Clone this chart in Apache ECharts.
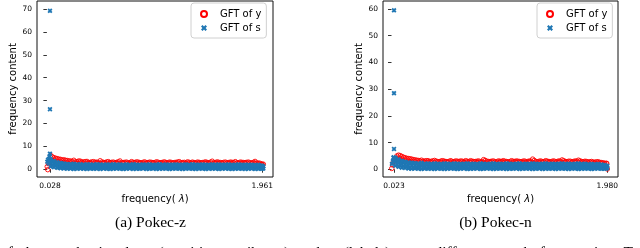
<!DOCTYPE html>
<html><head><meta charset="utf-8">
<script src="https://cdn.jsdelivr.net/npm/echarts@6/dist/echarts.min.js"></script>
<style>html,body{margin:0;padding:0;background:#fff}#c{width:640px;height:248px}</style>
</head><body><div id="c"></div>
<script>
// ---------- data ----------
const seriesNames = ['GFT of y', 'GFT of s'];
const captions = ['(a) Pokec-z', '(b) Pokec-n'];
const xTickValuesZ = [0.028, 1.961];
const xTickLabelsZ = ['0.028', '1.961'];
const xTickValuesN = [0.023, 1.980];
const xTickLabelsN = ['0.023', '1.980'];
const yTicksZ = [0, 10, 20, 30, 40, 50, 60, 70];
const yTicksN = [0, 10, 20, 30, 40, 50, 60];
const bottomWords = ['of', 'the', 'graph', 'signals', '*s', '(sensitive', 'attributes)', 'and', '*y', '(labels)', 'over', 'different', 'graph', 'frequencies.', 'T'];

// frequencies (eigenvalues) sampled across the dense band
const xCols = [
 0.035,0.065,0.095,0.125,0.155,0.185,0.215,0.245,0.275,0.305,
 0.335,0.365,0.395,0.425,0.455,0.485,0.515,0.545,0.575,0.605,
 0.635,0.665,0.695,0.725,0.755,0.785,0.815,0.845,0.875,0.905,
 0.935,0.965,0.995,1.025,1.055,1.085,1.115,1.145,1.175,1.205,
 1.235,1.265,1.295,1.325,1.355,1.385,1.415,1.445,1.475,1.505,
 1.535,1.565,1.595,1.625,1.655,1.685,1.715,1.745,1.775,1.805,
 1.835,1.865,1.895,1.925,1.955];
const xColsB = [
 0.050,0.080,0.110,0.140,0.170,0.200,0.230,0.260,0.290,0.320,
 0.350,0.380,0.410,0.440,0.470,0.500,0.530,0.560,0.590,0.620,
 0.650,0.680,0.710,0.740,0.770,0.800,0.830,0.860,0.890,0.920,
 0.950,0.980,1.010,1.040,1.070,1.100,1.130,1.160,1.190,1.220,
 1.250,1.280,1.310,1.340,1.370,1.400,1.430,1.460,1.490,1.520,
 1.550,1.580,1.610,1.640,1.670,1.700,1.730,1.760,1.790,1.820,
 1.850,1.880,1.910,1.940,1.970];

// ---- Pokec-z ----
const redTopZ = [
 6.0,5.0,4.6,4.3,4.1,3.8,3.6,3.9,3.3,3.5,
 3.2,3.4,3.0,3.3,3.1,3.7,3.0,3.2,2.9,3.1,
 3.0,3.6,2.9,3.1,2.8,3.0,3.2,2.9,3.0,2.8,
 3.1,2.9,3.2,2.8,3.0,2.9,3.1,2.8,3.0,3.3,
 2.9,2.8,3.0,3.1,2.8,3.0,2.9,3.2,2.8,3.5,
 2.9,3.0,2.8,3.1,2.9,3.0,3.3,2.8,3.0,2.9,
 3.1,2.8,3.4,2.7,2.3];
const redMidZ = [
 4.2,3.9,3.5,3.2,3.0,2.8,2.7,2.6,2.5,2.7,
 2.4,2.6,2.5,2.3,2.6,2.4,2.5,2.3,2.6,2.4,
 2.5,2.3,2.6,2.4,2.5,2.3,2.4,2.6,2.3,2.5,
 2.4,2.6,2.3,2.5,2.4,2.3,2.6,2.4,2.5,2.3,
 2.6,2.4,2.3,2.5,2.4,2.6,2.3,2.5,2.4,2.3,
 2.5,2.4,2.6,2.3,2.5,2.4,2.3,2.5,2.4,2.6,
 2.3,2.4,2.5,2.2,2.0];
const redTopZB = [
 5.4,4.8,4.4,4.0,3.9,3.6,3.4,3.2,3.6,3.1,
 3.3,2.9,3.2,3.0,2.8,3.1,2.9,3.3,3.0,2.8,
 3.2,2.9,3.0,2.8,3.3,2.9,3.1,2.8,3.2,2.9,
 3.0,2.8,3.1,2.9,3.2,2.8,3.0,2.9,3.1,2.8,
 3.0,3.2,2.8,2.9,3.1,2.8,3.0,2.9,3.1,2.8,
 3.2,2.9,3.0,2.8,3.1,2.9,2.8,3.1,2.9,3.0,
 2.8,3.0,2.7,2.6,2.2];
const blueTopZ = [
 4.4,3.6,3.0,2.7,2.5,2.3,2.2,2.4,2.1,2.2,
 2.0,2.2,2.1,2.0,2.2,2.1,1.9,2.1,2.0,2.2,
 2.0,2.1,1.9,2.1,2.0,2.2,2.0,1.9,2.1,2.0,
 2.1,1.9,2.0,2.2,2.0,2.1,1.9,2.0,2.1,2.0,
 1.9,2.1,2.0,2.2,1.9,2.0,2.1,2.0,1.9,2.1,
 2.0,2.1,1.9,2.0,2.1,1.9,2.0,2.1,1.9,2.0,
 1.9,2.0,1.8,1.9,1.6];
const blueMidZ = [
 2.8,2.4,1.9,1.6,1.4,1.3,1.2,1.3,1.1,1.2,
 1.1,1.0,1.2,1.1,1.0,1.2,1.1,1.0,1.1,1.2,
 1.0,1.1,1.2,1.0,1.1,1.0,1.2,1.1,1.0,1.1,
 1.2,1.0,1.1,1.0,1.2,1.1,1.0,1.1,1.2,1.0,
 1.1,1.0,1.2,1.1,1.0,1.1,1.0,1.2,1.1,1.0,
 1.1,1.2,1.0,1.1,1.0,1.1,1.2,1.0,1.1,1.0,
 1.1,1.0,1.1,0.9,0.8];
const blueBotZ = [
 1.2,0.9,0.6,0.4,0.3,0.2,0.3,0.1,0.2,0.3,
 0.2,0.1,0.3,0.2,0.2,0.1,0.3,0.2,0.1,0.2,
 0.3,0.2,0.1,0.2,0.3,0.1,0.2,0.2,0.3,0.1,
 0.2,0.3,0.1,0.2,0.2,0.3,0.1,0.2,0.3,0.2,
 0.1,0.2,0.3,0.2,0.1,0.2,0.3,0.1,0.2,0.2,
 0.3,0.1,0.2,0.3,0.2,0.1,0.2,0.3,0.2,0.1,
 0.2,0.3,0.1,0.2,0.2];
const blueHiZB = [
 3.4,2.9,2.6,2.4,2.2,2.1,2.0,1.8,1.9,1.7,
 1.8,1.6,1.7,1.8,1.6,1.7,1.5,1.8,1.6,1.7,
 1.8,1.6,1.7,1.5,1.7,1.8,1.6,1.7,1.6,1.8,
 1.6,1.7,1.8,1.5,1.7,1.6,1.8,1.7,1.6,1.7,
 1.8,1.6,1.5,1.7,1.8,1.6,1.7,1.6,1.8,1.7,
 1.6,1.7,1.8,1.6,1.5,1.7,1.6,1.8,1.6,1.7,
 1.6,1.7,1.5,1.5,1.2];
const blueLoZB = [
 1.8,1.4,1.0,0.8,0.7,0.6,0.5,0.6,0.5,0.6,
 0.5,0.6,0.4,0.6,0.5,0.6,0.5,0.4,0.6,0.5,
 0.6,0.4,0.5,0.6,0.5,0.6,0.4,0.5,0.6,0.5,
 0.4,0.6,0.5,0.6,0.5,0.4,0.6,0.5,0.4,0.6,
 0.5,0.6,0.4,0.5,0.6,0.5,0.4,0.6,0.5,0.6,
 0.4,0.5,0.6,0.5,0.4,0.6,0.5,0.4,0.6,0.5,
 0.6,0.4,0.5,0.4,0.3];
const redExtraXZ = [0.003, 0.008, 0.014, 0.020, 1.961];
const redExtraYZ = [1.1, -0.2, 2.4, 3.1, 1.9];
const blueExtraXZ = [0.028, 0.028, 0.028, 0.024, 0.004, 0.010, 0.016, 0.020, 0.030, 1.961, 1.961];
const blueExtraYZ = [69.2, 26.2, 6.8, 5.6, 3.3, 4.1, 2.5, 4.6, 3.8, 0.4, 1.2];

// ---- Pokec-n ----
const redTopN = [
 4.0,5.3,4.8,4.3,4.0,3.8,3.5,3.3,3.4,3.1,
 3.2,3.0,3.3,2.9,3.1,3.0,2.8,3.2,2.9,3.0,
 3.1,2.8,3.0,3.2,2.9,3.0,2.8,3.6,3.0,2.9,
 3.1,2.8,3.0,3.2,2.9,2.8,3.0,3.1,2.9,3.0,
 2.8,3.1,3.8,2.9,3.0,2.8,3.2,2.9,3.0,2.8,
 3.1,3.5,2.9,3.0,2.8,3.1,3.4,2.9,3.0,2.7,
 2.9,2.6,2.8,2.5,2.3];
const redMidN = [
 3.6,4.2,3.8,3.4,3.1,2.9,2.8,2.6,2.7,2.5,
 2.6,2.4,2.5,2.3,2.6,2.4,2.5,2.3,2.6,2.4,
 2.3,2.5,2.4,2.6,2.3,2.5,2.4,2.6,2.3,2.5,
 2.4,2.3,2.6,2.4,2.5,2.3,2.4,2.6,2.3,2.5,
 2.4,2.6,2.5,2.3,2.4,2.6,2.3,2.5,2.4,2.3,
 2.6,2.4,2.5,2.3,2.4,2.5,2.6,2.3,2.4,2.3,
 2.4,2.2,2.3,2.1,2.0];
const redTopNB = [
 5.0,5.1,4.5,4.1,3.9,3.6,3.4,3.2,3.0,3.2,
 2.9,3.1,3.0,2.8,3.2,2.9,3.0,2.8,3.1,2.9,
 3.0,3.2,2.8,3.0,2.9,3.1,2.8,3.3,2.9,3.0,
 2.8,3.1,2.9,3.0,2.8,3.2,2.9,3.0,2.8,3.1,
 2.9,3.0,3.3,2.8,3.1,2.9,3.0,2.8,3.1,2.9,
 3.0,3.2,2.8,3.0,2.9,3.0,3.1,2.8,2.9,2.8,
 2.7,2.8,2.6,2.4,2.2];
const blueTopN = [
 4.2,3.7,3.2,2.8,2.5,2.4,2.3,2.2,2.4,2.1,
 2.2,2.0,2.2,2.1,2.0,2.2,2.1,2.0,2.2,2.1,
 2.0,2.1,2.2,2.0,2.1,2.0,2.2,2.1,2.0,2.1,
 2.2,2.0,2.1,2.0,2.2,2.1,2.0,2.1,2.2,2.0,
 2.1,2.0,2.2,2.1,2.0,2.1,2.2,2.0,2.1,2.0,
 2.1,2.2,2.0,2.1,2.0,2.1,2.2,2.0,2.1,1.9,
 2.0,1.9,2.0,1.8,1.6];
const blueMidN = [
 2.9,2.5,2.0,1.7,1.5,1.4,1.3,1.2,1.3,1.1,
 1.2,1.1,1.0,1.2,1.1,1.3,1.0,1.1,1.2,1.1,
 1.0,1.2,1.1,1.0,1.2,1.1,1.0,1.1,1.2,1.0,
 1.1,1.2,1.0,1.1,1.0,1.2,1.1,1.0,1.1,1.2,
 1.0,1.1,1.2,1.0,1.1,1.0,1.2,1.1,1.0,1.1,
 1.2,1.0,1.1,1.0,1.2,1.1,1.0,1.1,1.2,1.0,
 1.1,1.0,1.0,0.9,0.8];
const blueBotN = [
 1.3,0.9,0.6,0.5,0.3,0.2,0.3,0.2,0.1,0.3,
 0.2,0.2,0.1,0.3,0.2,0.1,0.2,0.3,0.2,0.1,
 0.2,0.3,0.1,0.2,0.2,0.3,0.1,0.2,0.3,0.2,
 0.1,0.2,0.3,0.2,0.1,0.2,0.2,0.3,0.1,0.2,
 0.3,0.2,0.1,0.2,0.3,0.1,0.2,0.2,0.3,0.1,
 0.2,0.3,0.2,0.1,0.2,0.3,0.1,0.2,0.2,0.3,
 0.1,0.2,0.3,0.2,0.2];
const blueHiNB = [
 3.5,3.0,2.7,2.4,2.3,2.1,2.0,1.9,1.8,1.9,
 1.7,1.8,1.6,1.7,1.8,1.6,1.7,1.8,1.6,1.7,
 1.8,1.6,1.7,1.8,1.6,1.7,1.8,1.6,1.7,1.6,
 1.8,1.7,1.6,1.8,1.7,1.6,1.7,1.8,1.6,1.7,
 1.6,1.8,1.7,1.6,1.8,1.7,1.6,1.7,1.8,1.6,
 1.7,1.6,1.8,1.7,1.6,1.8,1.7,1.6,1.7,1.6,
 1.7,1.6,1.5,1.5,1.2];
const blueLoNB = [
 1.9,1.5,1.1,0.9,0.7,0.6,0.6,0.5,0.6,0.4,
 0.6,0.5,0.6,0.4,0.5,0.6,0.5,0.6,0.4,0.5,
 0.6,0.5,0.4,0.6,0.5,0.6,0.4,0.5,0.6,0.5,
 0.6,0.4,0.5,0.6,0.5,0.4,0.6,0.5,0.6,0.4,
 0.5,0.6,0.5,0.4,0.6,0.5,0.6,0.4,0.5,0.6,
 0.5,0.4,0.6,0.5,0.6,0.4,0.5,0.6,0.5,0.4,
 0.5,0.6,0.4,0.4,0.3];
const redExtraXN = [0.002, 0.010, 0.018, 1.975, 1.980];
const redExtraYN = [0.3, 1.6, 2.8, 2.2, 0.1];
const blueExtraXN = [0.023, 0.023, 0.023, 0.021, 0.004, 0.012, 0.018, 0.026, 1.980, 1.980];
const blueExtraYN = [59.5, 28.5, 7.6, 4.5, 2.0, 3.0, 4.3, 3.9, 0.5, 1.2];

// ---------- build ----------
function zip(xs, ys) { const o = []; for (let i = 0; i < Math.min(xs.length, ys.length); i++) o.push([xs[i], ys[i]]); return o; }
const RED = '#ff0000', BLUE = '#1f77b4';
const XPATH = 'path://M2.6,0L5,2.4L7.4,0L10,2.6L7.6,5L10,7.4L7.4,10L5,7.6L2.6,10L0,7.4L2.4,5L0,2.6Z';
const FONT = 'DejaVu Sans';

function redSeries(idx, data) {
  return { name: seriesNames[0], type: 'scatter', xAxisIndex: idx, yAxisIndex: idx, data,
    symbol: 'circle', symbolSize: 4.5, silent: true, animation: false,
    itemStyle: { color: 'rgba(255,255,255,0)', borderColor: RED, borderWidth: 0.9, opacity: 1 } };
}
function blueSeries(idx, data) {
  return { name: seriesNames[1], type: 'scatter', xAxisIndex: idx, yAxisIndex: idx, data,
    symbol: XPATH, symbolSize: 5, silent: true, animation: false,
    itemStyle: { color: BLUE, opacity: 1 } };
}
function xAx(idx, min, max, vals, labels) {
  return { type: 'value', gridIndex: idx, min, max,
    name: 'frequency( {i|λ})', nameLocation: 'middle', nameGap: 14,
    nameTextStyle: { fontFamily: FONT, fontSize: 10, color: '#000', rich: { i: { fontFamily: FONT, fontStyle: 'italic', fontSize: 10, color: '#000' } } },
    axisLine: { show: false }, splitLine: { show: false },
    axisTick: { show: true, length: 3.5, customValues: vals, lineStyle: { color: '#000', width: 0.8 } },
    axisLabel: { customValues: vals, margin: 5, fontFamily: FONT, fontSize: 7.5, color: '#000',
      formatter: v => { const k = vals.findIndex(t => Math.abs(t - v) < 1e-6); return k >= 0 ? labels[k] : ''; } } };
}
function yAx(idx, min, max, ticks) {
  return { type: 'value', gridIndex: idx, min, max,
    name: 'frequency content', nameLocation: 'middle', nameGap: 13.5,
    nameTextStyle: { fontFamily: FONT, fontSize: 10, color: '#000' },
    axisLine: { show: false }, splitLine: { show: false },
    axisTick: { show: true, length: 3.5, customValues: ticks, lineStyle: { color: '#000', width: 0.8 } },
    axisLabel: { customValues: ticks, margin: 5, fontFamily: FONT, fontSize: 7.5, color: '#000', formatter: v => String(Math.round(v)) } };
}
function legend(left) {
  return { left, top: 3, orient: 'vertical', data: seriesNames,
    itemWidth: 6, itemHeight: 6, itemGap: 4, padding: [6, 5, 5, 9],
    borderColor: '#d0d0d0', borderWidth: 1, borderRadius: 3, backgroundColor: '#fff',
    textStyle: { fontFamily: FONT, fontSize: 10, color: '#000', padding: [0, 0, 0, 8] },
    selectedMode: false };
}

// justified bottom text line (cropped continuation of the figure caption)
const SERIF = '15.5px "Liberation Serif"', SERIF_I = 'italic 15.5px "Liberation Serif"';
const ctx = document.createElement('canvas').getContext('2d');
const wordInfo = bottomWords.map(w => { const it = w[0] === '*'; const t = it ? w.slice(1) : w; ctx.font = it ? SERIF_I : SERIF; return { t, it, w: ctx.measureText(t).width }; });
const lineL = 0, lineR = 633;
const totalW = wordInfo.reduce((a, b) => a + b.w, 0);
const gap = (lineR - lineL - totalW) / (wordInfo.length - 1);
let cx = lineL;
const bottomGraphics = wordInfo.map(o => { const g = { type: 'text', x: cx, y: 244.5, silent: true, style: { text: o.t, font: o.it ? SERIF_I : SERIF, fill: '#000', align: 'left', verticalAlign: 'top' } }; cx += o.w + gap; return g; });

const chart = echarts.init(document.getElementById('c'), null, { renderer: 'canvas' });
chart.setOption({
  animation: false,
  grid: [
    { left: 37, top: 1, width: 236, height: 176, show: true, borderColor: '#111', borderWidth: 1, backgroundColor: 'transparent', outerBoundsMode: 'none' },
    { left: 383, top: 1, width: 235, height: 176, show: true, borderColor: '#111', borderWidth: 1, backgroundColor: 'transparent', outerBoundsMode: 'none' }
  ],
  xAxis: [xAx(0, -0.090, 2.058, xTickValuesZ, xTickLabelsZ), xAx(1, -0.078, 2.078, xTickValuesN, xTickLabelsN)],
  yAxis: [yAx(0, -3.4, 73.5, yTicksZ), yAx(1, -2.9, 63.0, yTicksN)],
  legend: [legend(191), legend(537)],
  series: [
    redSeries(0, [].concat(zip(xCols, redMidZ), zip(xCols, redTopZ), zip(xColsB, redTopZB), zip(redExtraXZ, redExtraYZ))),
    blueSeries(0, [].concat(zip(xCols, blueBotZ), zip(xColsB, blueLoZB), zip(xCols, blueMidZ), zip(xColsB, blueHiZB), zip(xCols, blueTopZ), zip(blueExtraXZ, blueExtraYZ))),
    redSeries(1, [].concat(zip(xCols, redMidN), zip(xCols, redTopN), zip(xColsB, redTopNB), zip(redExtraXN, redExtraYN))),
    blueSeries(1, [].concat(zip(xCols, blueBotN), zip(xColsB, blueLoNB), zip(xCols, blueMidN), zip(xColsB, blueHiNB), zip(xCols, blueTopN), zip(blueExtraXN, blueExtraYN)))
  ],
  graphic: [
    { type: 'text', x: 150.5, y: 222.5, silent: true, style: { text: captions[0], font: '15.5px "Liberation Serif"', fill: '#000', align: 'center', verticalAlign: 'middle' } },
    { type: 'text', x: 495.5, y: 222.5, silent: true, style: { text: captions[1], font: '15.5px "Liberation Serif"', fill: '#000', align: 'center', verticalAlign: 'middle' } }
  ].concat(bottomGraphics)
});
</script></body></html>
